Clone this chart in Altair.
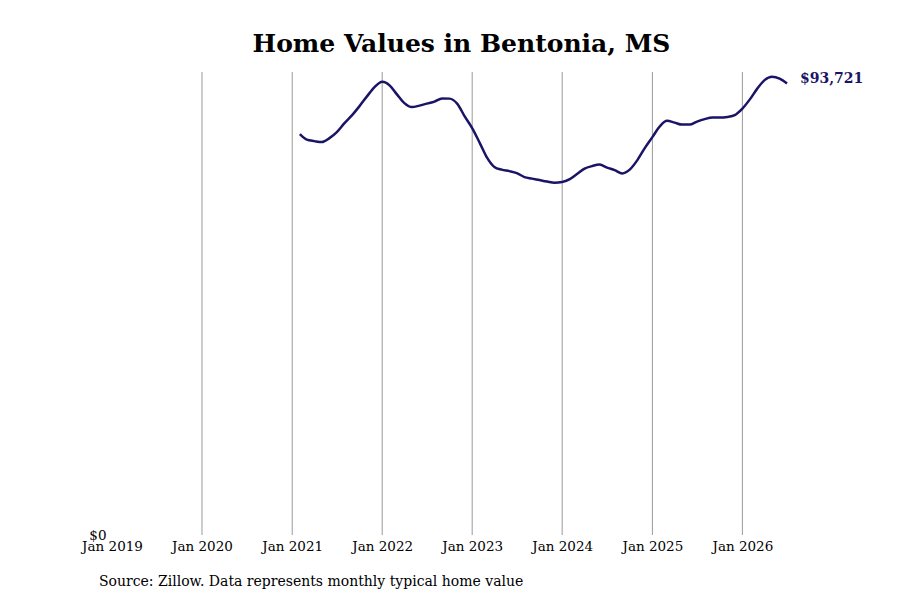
import altair as alt
import pandas as pd

months = pd.date_range("2021-02-01", "2026-07-01", freq="MS").strftime("%Y-%m-%d").tolist()
values = [
    83208, 82066, 81755, 81548, 82378, 83623, 85490, 87150, 89018, 91093, 92960,
    94060, 93271, 91508, 89640, 88810, 89121, 89536, 89951, 90615, 90574, 89536, 86943,
    84453, 81340, 78435, 76402, 75841, 75530, 75115, 74285, 73974, 73663, 73351, 73102,
    73248, 73870, 74908, 76049, 76568, 76879, 76256, 75738, 75053, 75841, 77813, 80303,
    82585, 84868, 85967, 85594, 85179, 85179, 85801, 86320, 86673, 86631, 86777, 87150,
    88499, 90470, 92545, 94413, 95097, 94724, 93721,
]
grid_years = ["2020-01-01", "2021-01-01", "2022-01-01", "2023-01-01",
              "2024-01-01", "2025-01-01", "2026-01-01"]
tick_years = ["2019-01-01"] + grid_years
last_label = "$93,721"
source_text = "Source: Zillow. Data represents monthly typical home value"

df = pd.DataFrame({"date": months, "value": values})
grid_df = pd.DataFrame({"date": grid_years})
last_df = df.tail(1).assign(label=last_label)

W, H = 675, 463
FONT = "DejaVu Serif"
NAVY = "#1a1466"

xscale = alt.Scale(domain=["2019-01-01", "2026-07-01"])
yscale = alt.Scale(domain=[0, 96100])

xenc = alt.X(
    "date:T",
    scale=xscale,
    axis=alt.Axis(
        values=tick_years, format="%b %Y", title=None, grid=False, ticks=False,
        domain=False, labelFont=FONT, labelFontSize=13.5, labelColor="black",
        labelPadding=4, labelFlush=False,
    ),
)

grid = alt.Chart(grid_df).mark_rule(color="#999999", strokeWidth=1).encode(
    x=alt.X("date:T", scale=xscale),
    y=alt.value(0),
    y2=alt.value(H),
)

line = alt.Chart(df).mark_line(color=NAVY, strokeWidth=2.5, interpolate="monotone").encode(
    x=xenc,
    y=alt.Y(
        "value:Q",
        scale=yscale,
        axis=alt.Axis(
            values=[0], format="$,.0f", title=None, grid=False, ticks=False,
            domain=False, labelFont=FONT, labelFontSize=13.5, labelColor="black",
            labelPadding=6, labelBaseline="middle",
        ),
    ),
)

label = alt.Chart(last_df).mark_text(
    align="left", dx=13, dy=-4, font=FONT, fontSize=14, fontWeight="bold", color=NAVY
).encode(x=alt.X("date:T", scale=xscale), y=alt.Y("value:Q", scale=yscale), text="label:N")

source = alt.Chart(pd.DataFrame({"t": [source_text]})).mark_text(
    align="left", baseline="middle", font=FONT, fontSize=14, color="black"
).encode(x=alt.value(-13), y=alt.value(H + 47), text="t:N")

chart = (
    alt.layer(grid, line, label, source)
    .properties(
        width=W,
        height=H,
        title=alt.TitleParams(
            "Home Values in Bentonia, MS", font=FONT, fontSize=25, fontWeight="bold",
            color="black", anchor="middle", dx=12, offset=15,
        ),
        autosize=alt.AutoSizeParams(type="none"),
        padding={"left": 104, "top": 64, "right": 105, "bottom": 57},
        background="white",
    )
    .configure_view(stroke=None, strokeWidth=0)
)

chart.save("out.html", embed_options={"renderer": "svg", "actions": False})
